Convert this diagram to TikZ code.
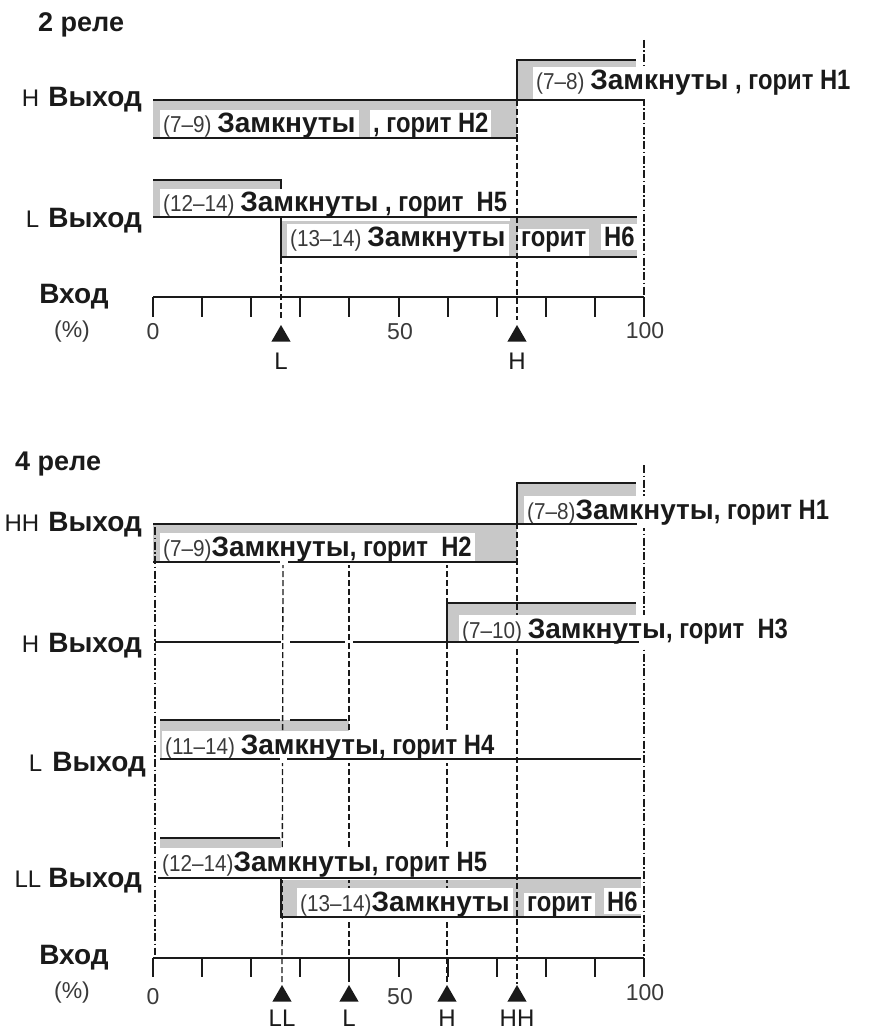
\documentclass[tikz,border=0pt]{standalone}
\usepackage{fontspec}
\setmainfont{Liberation Sans}
\newfontface\condbold[FakeStretch=0.85]{Liberation Sans Bold}
\newfontface\condreg[FakeStretch=0.9]{Liberation Sans}
\usetikzlibrary{shapes.geometric}
\definecolor{boxgray}{HTML}{C8C8C8}
\definecolor{ink}{HTML}{1A1A1A}
\definecolor{numgray}{HTML}{3A3A3A}
\newcommand{\fBold}{\fontsize{28}{30}\selectfont\bfseries}
\newcommand{\fCond}{\fontsize{28}{30}\selectfont\condbold}
\newcommand{\fReg}{\fontsize{23}{25}\selectfont\condreg\color{numgray}}
\newcommand{\fPre}{\fontsize{24}{26}\selectfont\mdseries}
\newcommand{\fNum}{\fontsize{23}{25}\selectfont}
\newcommand{\fTitle}{\fontsize{27}{29}\selectfont\bfseries}
\newcommand{\fMark}{\fontsize{24}{26}\selectfont}
\newcommand{\relaytext}[3]{{\fReg #1}{\fBold #2}{\fCond #3}}
\begin{document}
\begin{tikzpicture}[x=1pt,y=-1pt,
  pulse/.style={fill=boxgray},
  sig/.style={draw=ink,line width=2pt},
  guide/.style={draw=ink,line width=1.3pt,dash pattern=on 6pt off 3pt},
  guidedd/.style={draw=ink,line width=1.3pt,dash pattern=on 8pt off 2.5pt on 1.5pt off 2.5pt},
  lab/.style={fill=white,inner xsep=3pt,inner ysep=3pt,anchor=base west,text=ink,font=\fBold},
  rowlab/.style={anchor=base east,inner sep=0pt,text=ink},
  num/.style={inner sep=0pt,text=numgray,font=\fNum},
  marker/.style={regular polygon,regular polygon sides=3,fill=ink,inner sep=0pt,minimum size=22pt},
  mlab/.style={inner sep=0pt,text=ink,font=\fMark},
  ttl/.style={anchor=base west,inner sep=0pt,text=ink,font=\fTitle}]
\useasboundingbox[fill=white] (0,0) rectangle (868,1032);

% ================= 2 реле =================
\node[ttl] (title2) at (38,32) {2 реле};

% gray pulse fills
\fill[pulse] (517,60) rectangle (636,100);
\fill[pulse] (153,100) rectangle (517,138);
\fill[pulse] (153,180) rectangle (281,217);
\fill[pulse] (281,217) rectangle (637,257);

% guide lines
\draw[guidedd] (644,40) -- (644,297);
\draw[guide] (517,100) -- (517,320);
\draw[guide] (281,186) -- (281,320);

% texts
\node[lab] (a78) at (533,90) {\relaytext{(7–8) }{Замкнуты}{ , горит H1}};
\node[lab] (a79) at (160,133) {\relaytext{(7–9) }{Замкнуты}{}};
\node[lab] (a79b) at (370,133) {\fCond , горит H2};
\node[lab] (a1214) at (160,212) {\relaytext{(12–14) }{Замкнуты}{ , горит\ \ H5}};
\node[lab] (a1314) at (287,247) {\relaytext{(13–14) }{Замкнуты}{}};
\node[lab] (a1314b) at (518,247) {\fCond горит};
\node[lab] (a1314c) at (601,247) {\fCond H6};

% signal lines
\draw[sig] (517,100) -- (517,60) -- (636,60);
\draw[sig] (153,100) -- (644,100);
\draw[sig] (153,138) -- (517,138) -- (517,134);
\draw[sig] (153,180) -- (281,180) -- (281,186);
\draw[sig] (153,217) -- (637,217);
\draw[sig] (281,217) -- (281,257) -- (637,257);

% axis
\draw[sig] (153,297) -- (644,297);
\foreach \k in {0,...,10} \draw[sig] ({153+49.1*\k},297) -- ++(0,20);

% row labels
\node[rowlab] (h2out) at (142,107) {{\fPre H}\hspace{9pt}{\fBold Выход}};
\node[rowlab] (l2out) at (142,227) {{\fPre L}\hspace{9pt}{\fBold Выход}};
\node[inner sep=0pt,anchor=base,font=\fBold,text=ink] (in2) at (74,303) {Вход};
\node[num] (pc2) at (72,332) {(\%)};
\node[num] (n0a) at (153,332) {0};
\node[num] (n50a) at (400,332) {50};
\node[num] (n100a) at (645,331) {100};

% markers
\node[marker] (mLa) at (281,336) {};
\node[marker] (mHa) at (517,336) {};
\node[mlab] (tLa) at (281,361) {L};
\node[mlab] (tHa) at (517,361) {H};

% ================= 4 реле =================
\node[ttl] (title4) at (15,470) {4 реле};

\fill[pulse] (517,483) rectangle (636,523);
\fill[pulse] (153,524) rectangle (517,562);
\fill[pulse] (447,603) rectangle (636,642);
\fill[pulse] (160,720) rectangle (349,759);
\fill[pulse] (160,838) rectangle (281,878);
\fill[pulse] (281,878) rectangle (641,917);

\draw[guidedd] (155,527) -- (155,955);
\draw[guide] (283,562) -- (282,984);
\draw[guide] (349,562) -- (349,984);
\draw[guide] (447,562) -- (447,984);
\draw[guide] (517,523) -- (517,984);
\draw[guidedd] (644,465) -- (644,958);

\node[lab] (b78) at (524,519) {\relaytext{(7–8)}{Замкнуты}{, горит H1}};
\node[lab] (b79) at (160,556) {\relaytext{(7–9)}{Замкнуты}{, горит\ \ H2}};
\node[lab] (b710) at (459,638) {\relaytext{(7–10) }{Замкнуты}{, горит\ \ H3}};
\node[lab] (b1114) at (162,754) {\relaytext{(11–14) }{Замкнуты}{, горит H4}};
\node[lab] (b1214) at (159,871) {\relaytext{(12–14)}{Замкнуты}{, горит H5}};
\node[lab] (b1314) at (297,911) {\relaytext{(13–14)}{Замкнуты}{}};
\node[lab] (b1314b) at (524,911) {\fCond горит};
\node[lab] (b1314c) at (604,911) {\fCond H6};

\draw[sig] (517,523) -- (517,483) -- (636,483);
\draw[sig] (153,524) -- (637,524);
\draw[sig] (153,562) -- (280,562);
\draw[sig] (288,562) -- (517,562) -- (517,558);
\draw[sig] (155,642) -- (281,642);
\draw[sig] (290,642) -- (345,642);
\draw[sig] (353,642) -- (639,642);
\draw[sig] (447,642) -- (447,603) -- (636,603);
\draw[sig] (160,720) -- (280,720);
\draw[sig] (290,720) -- (347,720);
\draw[sig] (160,759) -- (280,759);
\draw[sig] (287,759) -- (641,759);
\draw[sig] (160,838) -- (280,838);
\draw[sig] (158,878) -- (641,878);
\draw[sig] (281,878) -- (281,917) -- (641,917);

\draw[sig] (153,958) -- (644,958);
\foreach \k in {0,...,10} \draw[sig] ({153+49.1*\k},958) -- ++(0,19);

\node[rowlab] (hhout) at (142,531) {{\fPre HH}\hspace{9pt}{\fBold Выход}};
\node[rowlab] (hout) at (142,652) {{\fPre H}\hspace{9pt}{\fBold Выход}};
\node[rowlab] (lout) at (146,771) {{\fPre L}\hspace{10pt}{\fBold Выход}};
\node[rowlab] (llout) at (142,887) {{\fPre LL}\hspace{7pt}{\fBold Выход}};
\node[inner sep=0pt,anchor=base,font=\fBold,text=ink] (in4) at (74,964) {Вход};
\node[num] (pc4) at (72,993) {(\%)};
\node[num] (n0b) at (153,997) {0};
\node[num] (n50b) at (400,997) {50};
\node[num] (n100b) at (645,993) {100};

\node[marker] (mLLb) at (282,996) {};
\node[marker] (mLb) at (349,996) {};
\node[marker] (mHb) at (447,996) {};
\node[marker] (mHHb) at (517,996) {};
\node[mlab] (tLLb) at (282,1018) {LL};
\node[mlab] (tLb) at (349,1018) {L};
\node[mlab] (tHb) at (447,1018) {H};
\node[mlab] (tHHb) at (517,1018) {HH};
\end{tikzpicture}
\end{document}
